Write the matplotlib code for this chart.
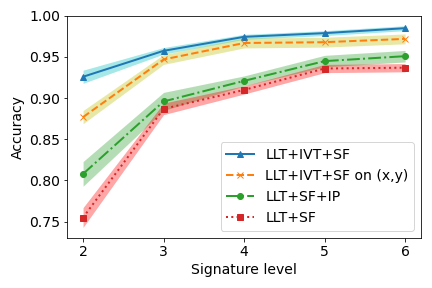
import numpy as np
import matplotlib.pyplot as plt

# Signaturniveaus und Genauigkeiten
levels = [2, 3, 4, 5, 6]

acc_ivt_sf = [0.926, 0.9575, 0.9745, 0.979, 0.985]
std_ivt_sf = [0.008, 0.004, 0.003, 0.003, 0.003]

acc_ivt_sf_xy = [0.877, 0.947, 0.967, 0.968, 0.972]
std_ivt_sf_xy = [0.008, 0.006, 0.006, 0.006, 0.006]

acc_sf_ip = [0.808, 0.896, 0.921, 0.945, 0.951]
std_sf_ip = [0.015, 0.011, 0.006, 0.007, 0.007]

acc_sf = [0.755, 0.887, 0.910, 0.936, 0.937]
std_sf = [0.012, 0.007, 0.005, 0.005, 0.005]

series = [
    ("LLT+IVT+SF", acc_ivt_sf, std_ivt_sf, "tab:blue", "c", "^", "-"),
    ("LLT+IVT+SF on (x,y)", acc_ivt_sf_xy, std_ivt_sf_xy, "tab:orange", "y", "x", "--"),
    ("LLT+SF+IP", acc_sf_ip, std_sf_ip, "tab:green", "tab:green", "o", "-."),
    ("LLT+SF", acc_sf, std_sf, "tab:red", "red", "s", ":"),
]

plt.rcParams['font.size'] = 14
fig, ax = plt.subplots(figsize=(6, 4), dpi=72)

x = np.array(levels)
for nombre, media, desv, color, banda, marca, estilo in series:
    media = np.array(media)
    desv = np.array(desv)
    ax.fill_between(x, media - desv, media + desv, color=banda, alpha=0.35, linewidth=0)
    ax.plot(x, media, color=color, marker=marca, linestyle=estilo, linewidth=2,
            markersize=6, label=nombre)

ax.set_xlim(1.8, 6.2)
ax.set_ylim(0.7306, 1.0)
ax.set_xticks(levels)
ax.set_xlabel("Signature level")
ax.set_ylabel("Accuracy")
ax.legend(loc="lower right")
plt.subplots_adjust(left=0.155, right=0.975, top=0.945, bottom=0.175)
plt.savefig("out.png")
